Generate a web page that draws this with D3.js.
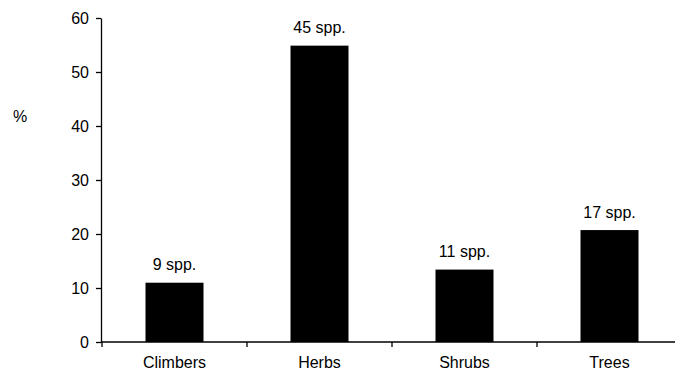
<!DOCTYPE html>
<html><head><meta charset="utf-8">
<script src="https://cdn.jsdelivr.net/npm/d3@7"></script>
<style>body{margin:0;background:#fff}svg{display:block}text{font-family:"Liberation Sans",Arial,sans-serif}</style>
</head><body>
<svg id="c" width="675" height="372"></svg>
<script>
const categories = ["Climbers","Herbs","Shrubs","Trees"];
const species = [9,45,11,17];
const percents = [10.98,54.88,13.41,20.73];
const yTicks = [0,10,20,30,40,50,60];

const svg = d3.select("#c");
const x = d3.scaleBand().domain(categories).range([102,682]).paddingInner(0).paddingOuter(0);
const y = d3.scaleLinear().domain([0,60]).range([342,18]);
const bw = x.bandwidth()*0.4;

// y axis
const ya = svg.append("g").attr("transform","translate(101,0)")
  .call(d3.axisLeft(y).tickValues(yTicks).tickSize(5).tickSizeOuter(0).tickPadding(7));
ya.select(".domain").attr("stroke","#000").attr("stroke-width",1.3);
ya.selectAll(".tick line").attr("stroke","#000").attr("stroke-width",1.3);
ya.selectAll(".tick text").attr("font-size",16).attr("fill","#000");

// x axis
const xa = svg.append("g").attr("transform","translate(0,342)");
xa.append("line").attr("x1",101).attr("x2",682).attr("stroke","#000").attr("stroke-width",1.3);
const edges = categories.map(c=>x(c));
xa.selectAll("line.t").data(edges).join("line").attr("class","t")
  .attr("x1",d=>d).attr("x2",d=>d).attr("y1",0).attr("y2",5).attr("stroke","#000").attr("stroke-width",1.3);
xa.selectAll("text").data(categories).join("text")
  .attr("x",d=>x(d)+x.bandwidth()/2).attr("y",26).attr("text-anchor","middle")
  .attr("font-size",16).attr("fill","#000").text(d=>d);

// bars
svg.selectAll("rect.bar").data(categories).join("rect").attr("class","bar")
  .attr("x",d=>x(d)+(x.bandwidth()-bw)/2)
  .attr("y",(d,i)=>y(percents[i]))
  .attr("width",bw)
  .attr("height",(d,i)=>y(0)-y(percents[i]))
  .attr("fill","#000");

// labels
svg.selectAll("text.lab").data(categories).join("text").attr("class","lab")
  .attr("x",d=>x(d)+x.bandwidth()/2)
  .attr("y",(d,i)=>y(percents[i])-12.5)
  .attr("text-anchor","middle").attr("font-size",16).attr("fill","#000")
  .text((d,i)=>species[i]+" spp.");

svg.append("text").attr("x",20).attr("y",122).attr("text-anchor","middle")
  .attr("font-size",16).attr("fill","#000").text("%");
</script>
</body></html>
